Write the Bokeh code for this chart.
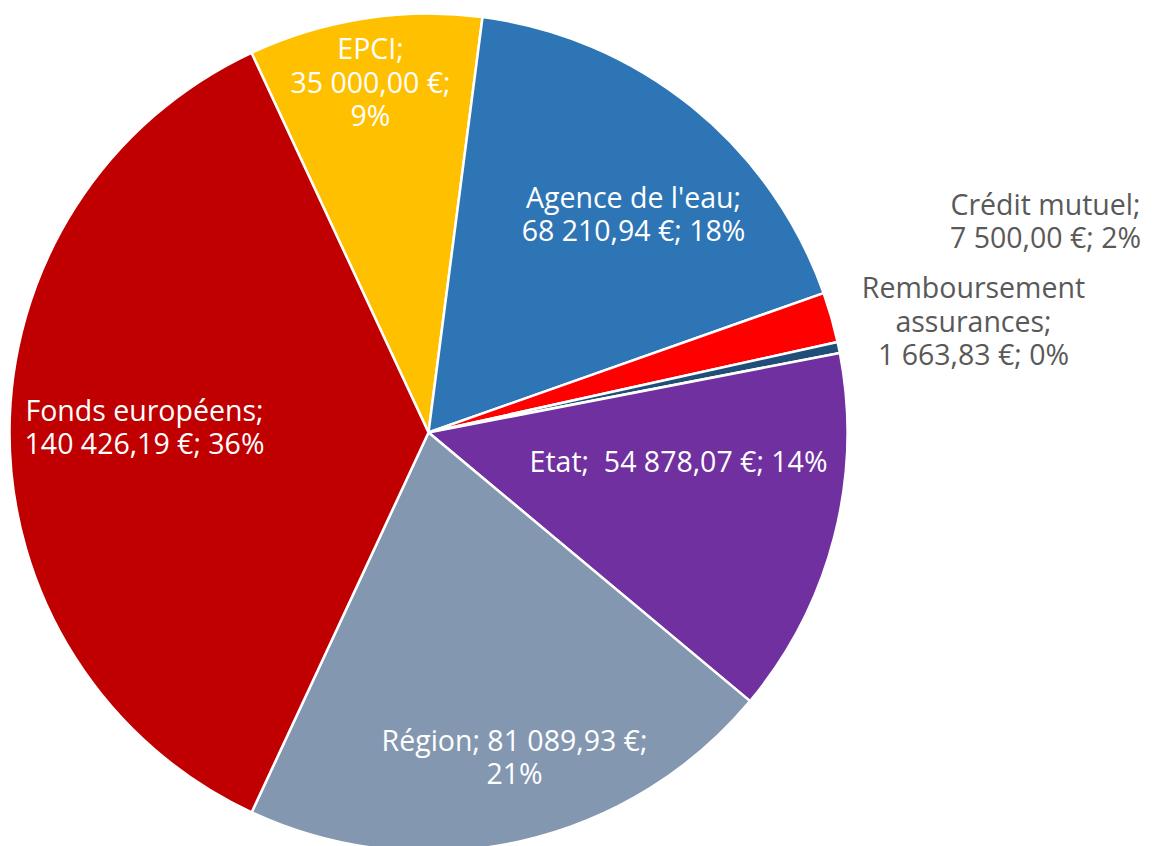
import math
from bokeh.plotting import figure
from bokeh.models import Range1d, ColumnDataSource
from bokeh.core.properties import value
from bokeh.embed import file_html
from bokeh.resources import INLINE

# ---- data ----
categories = ["EPCI", "Agence de l'eau", "Crédit mutuel", "Remboursement assurances",
              "Etat", "Région", "Fonds européens"]
amounts = [35000.00, 68210.94, 7500.00, 1663.83, 54878.07, 81089.93, 140426.19]
colors = ["#FFC000", "#2E75B6", "#FF0000", "#1F4E79", "#7030A0", "#8497B0", "#C00000"]

# ---- layout (pixels) ----
W, H = 1160, 846
CX, CY, R = 428, 846 - 432, 419
START_DEG = 115.0          # first slice starts 25 deg left of 12 o'clock
LINE_STEP = 33.5
FONT = "Open Sans"
FSIZE = "28.5px"
# label block centre offsets from pie centre (dx right, dy up), text colour, line wrap
label_offsets = [(-58, 351), (205, 219), (617, 212), (545, 112), (250, -28), (86, -324), (-284, 6)]
label_colors = ["white", "white", "#595959", "#595959", "white", "white", "white"]
wraps = [
    ["{n};", "{v} €;", "{p}%"],
    ["{n};", "{v} €; {p}%"],
    ["{n};", "{v} €; {p}%"],
    ["{n0}", "{n1};", "{v} €; {p}%"],
    ["{n};\u00a0 {v} €; {p}%"],
    ["{n}; {v} €;", "{p}%"],
    ["{n};", "{v} €; {p}%"],
]


def fr(v):
    return f"{v:,.2f}".replace(",", "\u00a0").replace(".", ",")


total = sum(amounts)
starts, ends = [], []
a = math.radians(START_DEG)
for v in amounts:
    sweep = v / total * 2 * math.pi
    ends.append(a)
    starts.append(a - sweep)
    a -= sweep

p = figure(width=W, height=H, output_backend="svg", toolbar_location=None,
           x_range=Range1d(0, W), y_range=Range1d(0, H), min_border=0)
p.axis.visible = False
p.grid.visible = False
p.outline_line_color = None
p.background_fill_color = "white"
p.border_fill_color = "white"

src = ColumnDataSource(dict(start=starts, end=ends, color=colors,
                            x=[CX] * len(amounts), y=[CY] * len(amounts)))
p.wedge(x="x", y="y", radius=R, start_angle="start", end_angle="end",
        fill_color="color", line_color="white", line_width=2.5, source=src)

tx, ty, tt, tc = [], [], [], []
for i, (name, v) in enumerate(zip(categories, amounts)):
    pct = round(v / total * 100)
    words = name.split(" ", 1)
    lines = [w.format(n=name, n0=words[0], n1=words[-1], v=fr(v), p=pct) for w in wraps[i]]
    dx, dy = label_offsets[i]
    n = len(lines)
    for k, line in enumerate(lines):
        tx.append(CX + dx)
        ty.append(CY + dy + ((n - 1) / 2 - k) * LINE_STEP)
        tt.append(line)
        tc.append(label_colors[i])

p.text(x=tx, y=ty, text=tt, text_color=tc, text_align="center", text_baseline="middle",
       text_font=value(FONT), text_font_size=FSIZE)

open("out.html", "w").write(file_html(p, INLINE))
